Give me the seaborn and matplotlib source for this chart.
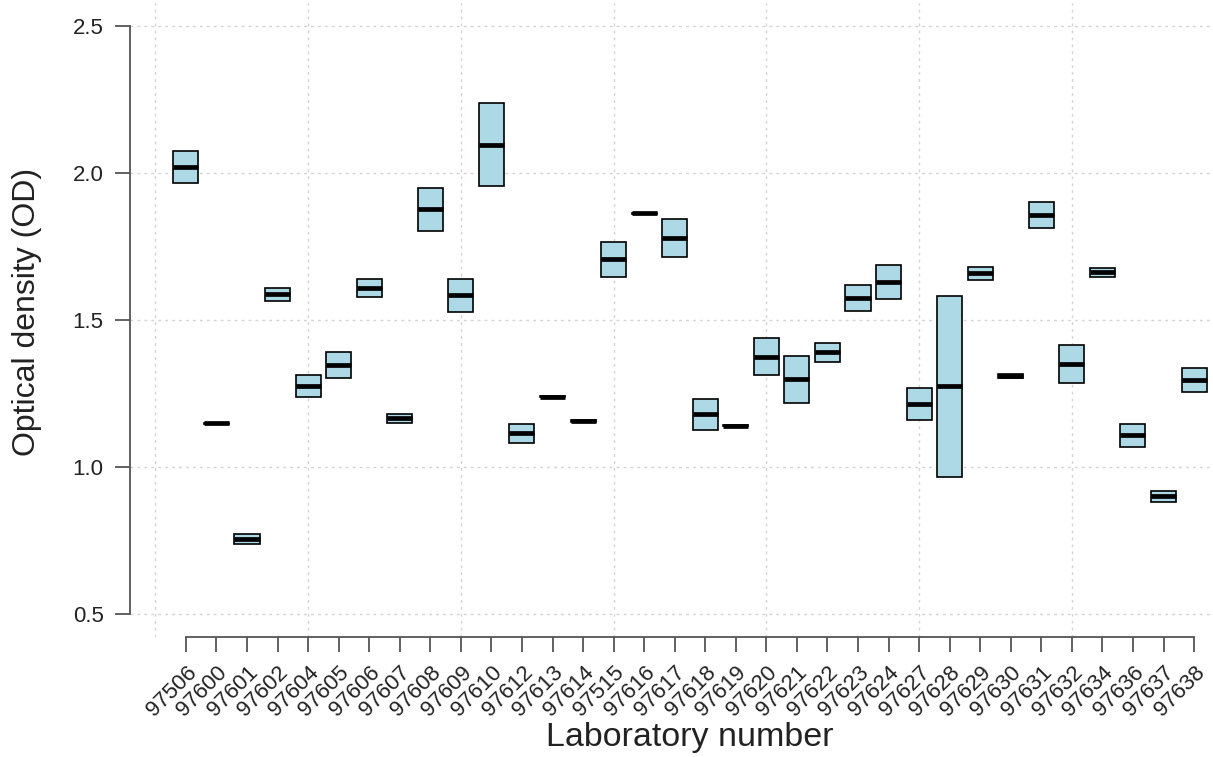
import numpy as np
import pandas as pd
import seaborn as sns
import matplotlib.pyplot as plt

# Two replicate OD readings per laboratory (lower / higher value)
labs = ["97506", "97600", "97601", "97602", "97604", "97605", "97606", "97607",
        "97608", "97609", "97610", "97612", "97613", "97614", "97515", "97616",
        "97617", "97618", "97619", "97620", "97621", "97622", "97623", "97624",
        "97627", "97628", "97629", "97630", "97631", "97632", "97634", "97636",
        "97637", "97638"]
od_low = [1.968, 1.147, 0.736, 1.565, 1.238, 1.302, 1.580, 1.150,
          1.804, 1.528, 1.957, 1.082, 1.238, 1.151, 1.647, 1.862,
          1.715, 1.125, 1.138, 1.313, 1.218, 1.358, 1.531, 1.571,
          1.158, 0.965, 1.636, 1.302, 1.813, 1.285, 1.647, 1.068,
          0.881, 1.253]
od_high = [2.076, 1.150, 0.770, 1.610, 1.312, 1.391, 1.639, 1.181,
           1.949, 1.639, 2.238, 1.145, 1.240, 1.159, 1.766, 1.866,
           1.844, 1.232, 1.143, 1.437, 1.378, 1.421, 1.619, 1.688,
           1.268, 1.582, 1.682, 1.316, 1.903, 1.415, 1.677, 1.147,
           0.918, 1.338]

# each reading entered twice so the box hinges land on the two replicates
# (same as R's fivenum hinges for n = 2)
rows = []
for lab, lo, hi in zip(labs, od_low, od_high):
    for v in (lo, lo, hi, hi):
        rows.append({"lab": lab, "od": v})
df = pd.DataFrame(rows)

sns.set_style("white")
plt.rcParams["font.family"] = ["Liberation Sans", "DejaVu Sans"]

fig = plt.figure(figsize=(12.13, 7.57), dpi=100)
ax = fig.add_axes([130 / 1213, 1 - 637 / 757, (1213 - 130) / 1213, (637 - 3) / 757])

# dotted grid like R's grid()
for yv in np.arange(0.5, 2.51, 0.5):
    ax.axhline(yv, color="#d3d3d3", lw=1, ls=(0, (2, 3)), zorder=0)
for xv in [-1, 4, 9, 14, 19, 24, 29]:
    ax.axvline(xv, color="#d3d3d3", lw=1, ls=(0, (2, 3)), zorder=0)

sns.boxplot(data=df, x="lab", y="od", order=labs, ax=ax,
            color="#add8e6", saturation=1, width=0.82, linecolor="black",
            linewidth=1.2, showcaps=False, showfliers=False,
            medianprops={"linewidth": 3.4, "color": "black"},
            whiskerprops={"linewidth": 0})

ax.set_xlim(-1.83, 33.62)
ax.set_ylim(0.42, 2.58)

ax.set_yticks([0.5, 1.0, 1.5, 2.0, 2.5])
ax.set_yticklabels(["0.5", "1.0", "1.5", "2.0", "2.5"])
ax.set_xticks(range(len(labs)))
ax.set_xticklabels(labs)
plt.setp(ax.get_xticklabels(), rotation=45, ha="right", rotation_mode="anchor")

for side in ["top", "right"]:
    ax.spines[side].set_visible(False)
ax.spines["left"].set_bounds(0.5, 2.5)
ax.spines["bottom"].set_bounds(0, len(labs) - 1)
for side in ["left", "bottom"]:
    ax.spines[side].set_color("#555555")
    ax.spines[side].set_linewidth(1.3)

ax.tick_params(axis="both", which="major", direction="out", length=11,
               width=1.3, color="#555555", labelsize=16, labelcolor="#222222",
               bottom=True, left=True)
ax.tick_params(axis="y", pad=8)
ax.tick_params(axis="x", pad=7)

ax.set_xlabel("Laboratory number", fontsize=24.5, color="#222222")
ax.set_ylabel("Optical density (OD)", fontsize=23, color="#222222")
ax.xaxis.set_label_coords((690 - 130) / 1083, -0.134)
ax.yaxis.set_label_coords(-0.081, 0.513)

fig.savefig("out.png", dpi=100)
